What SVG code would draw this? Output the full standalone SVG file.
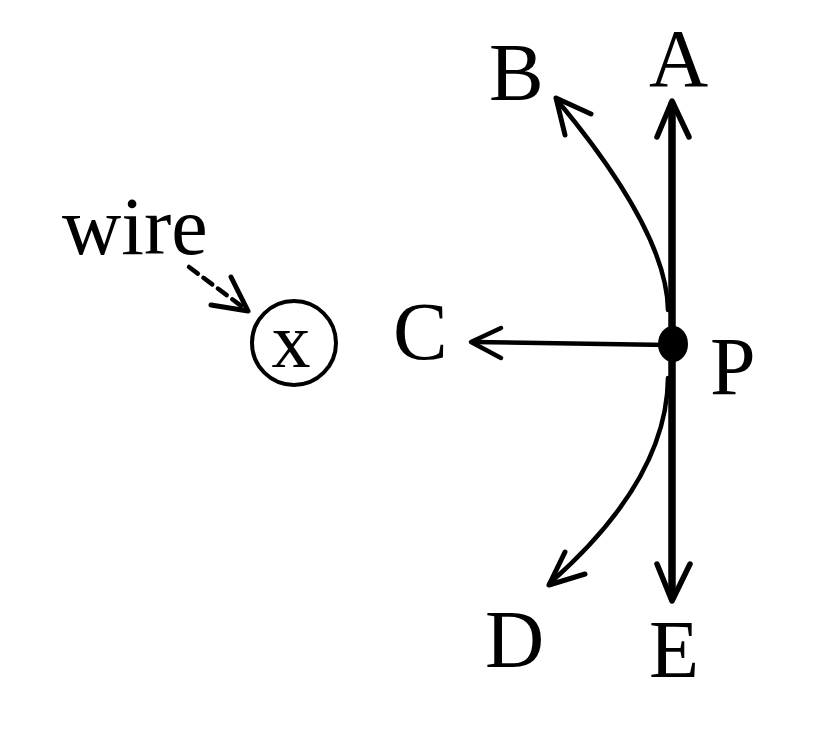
<svg xmlns="http://www.w3.org/2000/svg" width="834" height="736" viewBox="0 0 834 736">
<style>
text{font-family:"Liberation Serif","Times New Roman",serif;fill:#000}
.lbl{font-size:82px}
.ln{fill:none;stroke:#000;stroke-linecap:round;stroke-linejoin:round}
</style>
<rect width="834" height="736" fill="#fff"/>
<g id="connectors">
  <!-- A / E vertical -->
  <line class="ln" x1="672" y1="104" x2="672" y2="597" stroke-width="7.5"/>
  <polyline class="ln" points="657,137 672,101 689,137" stroke-width="5.5"/>
  <polyline class="ln" points="657,564 672,601 690,564" stroke-width="5.5"/>
  <!-- B curve -->
  <path class="ln" d="M668,310 Q667,232 557,100" stroke-width="4.5"/>
  <polyline class="ln" points="565,135 556,98 591,114" stroke-width="5"/>
  <!-- D curve -->
  <path class="ln" d="M668,378 Q667,480 550,583" stroke-width="4.5"/>
  <polyline class="ln" points="565,552 549,585 585,574" stroke-width="5"/>
  <!-- C horizontal -->
  <line class="ln" x1="668" y1="345" x2="472" y2="342" stroke-width="4.5"/>
  <polyline class="ln" points="501,328 471,342 501,358" stroke-width="4.5"/>
  <!-- wire dashed -->
  <line class="ln" x1="189" y1="267" x2="244" y2="308" stroke-width="4.5" stroke-dasharray="11,7" stroke-linecap="butt"/>
  <polyline class="ln" points="231,277 248,311 211,305" stroke-width="5"/>
</g>
<g id="P">
  <ellipse cx="673" cy="344" rx="15" ry="18" fill="#000"/>
  <text class="lbl" x="710" y="394">P</text>
</g>
<g id="A"><text class="lbl" x="649" y="86">A</text></g>
<g id="B"><text class="lbl" x="489" y="100">B</text></g>
<g id="C"><text class="lbl" x="393" y="359">C</text></g>
<g id="D"><text class="lbl" x="485" y="667">D</text></g>
<g id="E"><text class="lbl" x="649" y="677">E</text></g>
<g id="wire">
  <text x="62" y="254" font-size="82">wire</text>
  <circle cx="294" cy="343" r="42" fill="none" stroke="#000" stroke-width="4"/>
  <text x="291" y="367" font-size="78" text-anchor="middle">x</text>
</g>
</svg>
